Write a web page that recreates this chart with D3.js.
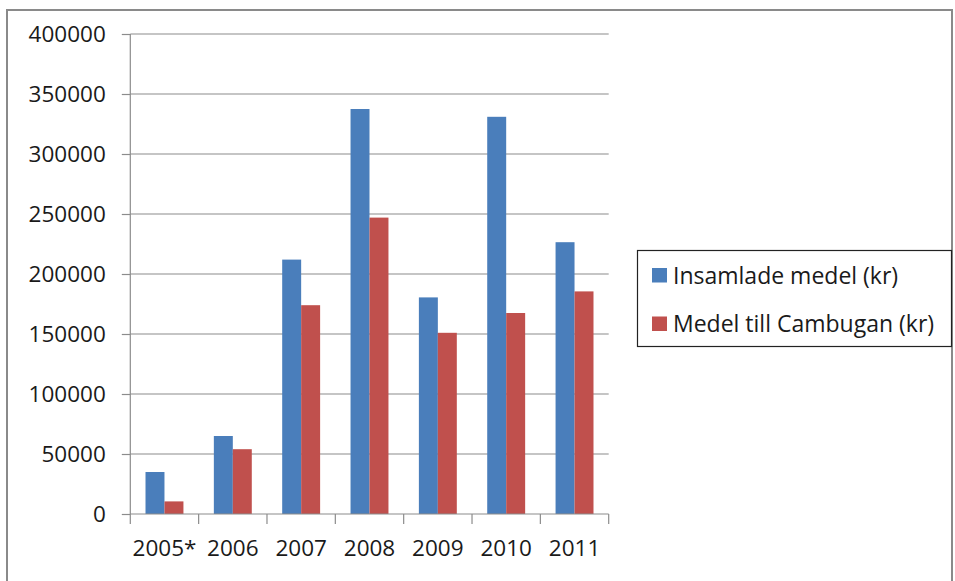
<!DOCTYPE html>
<html><head><meta charset="utf-8">
<script src="https://cdn.jsdelivr.net/npm/d3@7"></script>
<style>
html,body{margin:0;padding:0;background:#fff;}
svg{display:block;}
text{font-family:"Open Sans",sans-serif;fill:#1a1a1a;}
</style></head><body>
<svg id="c" width="955" height="581"></svg>
<script>
const categories = ["2005*","2006","2007","2008","2009","2010","2011"];
const seriesNames = ["Insamlade medel (kr)","Medel till Cambugan (kr)"];
const insamlade = [35000, 65000, 212000, 337500, 180500, 331000, 226500];
const cambugan  = [10500, 54000, 174000, 247000, 151000, 167500, 185500];
const yTicks = [0,50000,100000,150000,200000,250000,300000,350000,400000];
const colors = ["#4a7ebb","#c0504d"];

const svg = d3.select("#c");
const L=130.3, R=608.7, T=34, B=514;
const FS = "22.5px";

// outer frame
svg.append("rect").attr("x",7).attr("y",10).attr("width",945).attr("height",590)
  .attr("fill","none").attr("stroke","#8a8a8a").attr("stroke-width",2);

const x = d3.scaleBand().domain(categories).range([L,R]).paddingInner(0.445).paddingOuter(0.2225);
const xs = d3.scaleBand().domain([0,1]).range([0,x.bandwidth()]);
const y = d3.scaleLinear().domain([0,400000]).range([B,T]);

// gridlines
svg.append("g").selectAll("line").data(yTicks.filter(d=>d>0)).join("line")
  .attr("x1",L).attr("x2",R).attr("y1",d=>y(d)).attr("y2",d=>y(d))
  .attr("stroke","#8c8c8c").attr("stroke-width",1.2);

// bars
const data = categories.map((c,i)=>({c, v:[insamlade[i],cambugan[i]]}));
const g = svg.append("g").selectAll("g").data(data).join("g")
  .attr("transform",d=>`translate(${x(d.c)},0)`);
g.selectAll("rect").data(d=>d.v.map((v,k)=>({v,k}))).join("rect")
  .attr("x",d=>xs(d.k)).attr("width",xs.bandwidth())
  .attr("y",d=>y(d.v)).attr("height",d=>B-y(d.v))
  .attr("fill",d=>colors[d.k]);

// y axis
const ya = svg.append("g").attr("transform",`translate(${L},0)`)
  .call(d3.axisLeft(y).tickValues(yTicks).tickSize(8.5).tickPadding(16).tickFormat(d3.format("d")));
ya.select(".domain").attr("stroke","#8c8c8c").attr("stroke-width",1.2).attr("d",`M0,${T}V${B}`);
ya.selectAll(".tick line").attr("stroke","#8c8c8c").attr("stroke-width",1.2);
ya.selectAll(".tick text").attr("font-size",FS).attr("font-family","Open Sans").attr("fill","#1a1a1a").attr("dy","0.34em");

// x axis
const xa = svg.append("g").attr("transform",`translate(0,${B})`)
  .call(d3.axisBottom(x).tickSize(0).tickPadding(26));
xa.select(".domain").attr("stroke","#8c8c8c").attr("stroke-width",1.2).attr("d",`M${L},0H${R}`);
xa.selectAll(".tick text").attr("font-size",FS).attr("font-family","Open Sans").attr("fill","#1a1a1a");
// boundary tick marks between categories
const bounds = categories.map(c=>x(c)-x.step()*x.paddingInner()/2).concat([R]);
svg.append("g").selectAll("line").data(bounds).join("line")
  .attr("x1",d=>d).attr("x2",d=>d).attr("y1",B).attr("y2",B+10)
  .attr("stroke","#8c8c8c").attr("stroke-width",1.2);

// legend
svg.append("rect").attr("x",637.5).attr("y",250.5).attr("width",314).attr("height",96)
  .attr("fill","#fff").attr("stroke","#222").attr("stroke-width",1.2);
const lg = svg.append("g").selectAll("g").data(seriesNames).join("g")
  .attr("transform",(d,i)=>`translate(652,${268+i*48.5})`);
lg.append("rect").attr("width",15).attr("height",14.5).attr("fill",(d,i)=>colors[i]);
lg.append("text").attr("x",21).attr("y",15.5).attr("font-size","23px").text(d=>d);
</script>
</body></html>
